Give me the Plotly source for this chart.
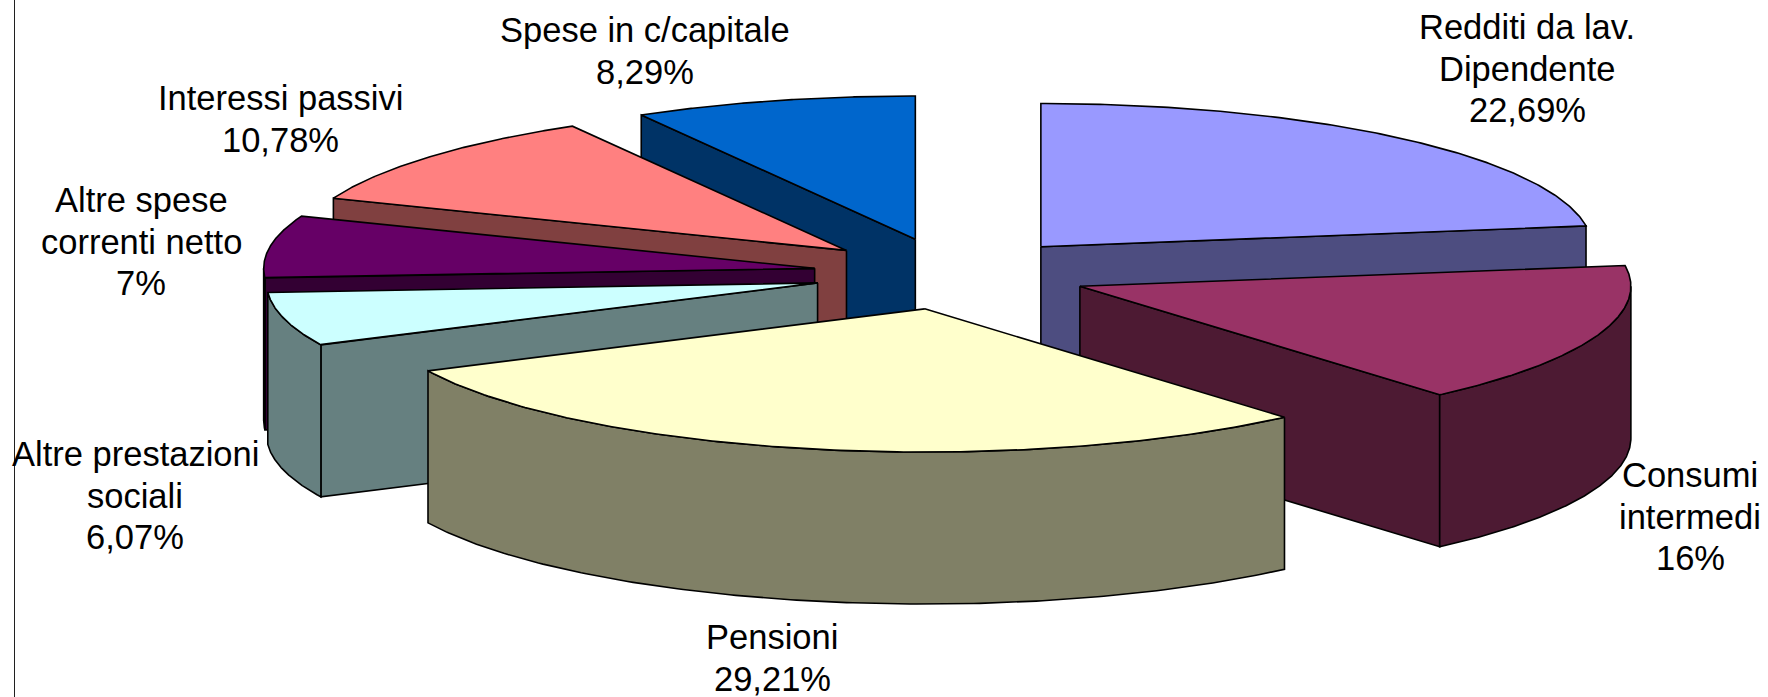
import numpy as np
import plotly.graph_objects as go

# ---- data ----
category_lines = [
    ["Redditi da lav.", "Dipendente"],
    ["Consumi", "intermedi"],
    ["Pensioni"],
    ["Altre prestazioni", "sociali"],
    ["Altre spese", "correnti netto"],
    ["Interessi passivi"],
    ["Spese in c/capitale"],
]
values = [22.69, 16, 29.21, 6.07, 7, 10.78, 8.29]
value_labels = ["22,69%", "16%", "29,21%", "6,07%", "7%", "10,78%", "8,29%"]

# ---- styles ----
top_colors = ["#9999FF", "#993366", "#FFFFCC", "#CCFFFF", "#660066", "#FF8080", "#0066CC"]
side_colors = ["#4D4D80", "#4D1A33", "#808066", "#668080", "#330033", "#804040", "#003366"]

# ---- layout of the drawing (page pixels) ----
W, H = 1768, 697
CX, CY = 950.8, 273.8      # pie centre
RX, RY = 551.0, 143.2      # projected radii
DEPTH = 152.0              # thickness of the pie
EXPLODE = 0.25             # every slice is pulled out by a quarter radius
slice_nudge_x = [0, 0, 2, 0, 0, 0, 0]
LINE = dict(color="black", width=1.6)
FONT = dict(family="Liberation Sans, Arial, sans-serif", size=34.5, color="black")
LINE_STEP = 41.7
label_x = [1527, 1690, 772, 135, 141, 280, 645]
label_y0 = [27, 475, 637, 454, 200, 98, 30]

# ---- geometry derived from the values ----
v = np.array(values, dtype=float)
edges = np.concatenate([[0.0], np.cumsum(v)]) / v.sum() * 2 * np.pi


def arc(a0, a1, ox, oy, dz=0.0, n=160):
    t = np.linspace(a0, a1, n)
    return ox + RX * np.sin(t), oy - RY * np.cos(t) + dz


def poly(fig, xs, ys, color):
    fig.add_trace(go.Scatter(
        x=np.append(xs, xs[0]), y=np.append(ys, ys[0]), mode="lines",
        fill="toself", fillcolor=color, line=LINE, hoverinfo="skip",
        showlegend=False))


def radial_face(fig, ang, ox, oy, color):
    ex, ey = ox + RX * np.sin(ang), oy - RY * np.cos(ang)
    poly(fig, np.array([ox, ex, ex, ox]), np.array([oy, ey, ey + DEPTH, oy + DEPTH]), color)


fig = go.Figure()
mids = (edges[:-1] + edges[1:]) / 2
ox = CX + EXPLODE * RX * np.sin(mids) + np.array(slice_nudge_x)
oy = CY - EXPLODE * RY * np.cos(mids)

for i in np.argsort(oy):
    a0, a1 = edges[i], edges[i + 1]
    # flat cut faces that look towards the viewer
    if np.sin(a0) < -1e-6:
        radial_face(fig, a0, ox[i], oy[i], side_colors[i])
    if np.sin(a1) > 1e-6:
        radial_face(fig, a1, ox[i], oy[i], side_colors[i])
    # curved rim: only the front half of the ellipse can be seen
    w0, w1 = max(a0, np.pi / 2), min(a1, 3 * np.pi / 2)
    if w1 > w0:
        tx, ty = arc(w0, w1, ox[i], oy[i])
        bx, by = arc(w1, w0, ox[i], oy[i], DEPTH)
        poly(fig, np.concatenate([tx, bx]), np.concatenate([ty, by]), side_colors[i])
    # top of the slice
    tx, ty = arc(a0, a1, ox[i], oy[i])
    poly(fig, np.concatenate([[ox[i]], tx]), np.concatenate([[oy[i]], ty]), top_colors[i])

# labels: one real text per line, because the line pitch is wider than Plotly's
for i, lines in enumerate(category_lines):
    for k, txt in enumerate(lines + [value_labels[i]]):
        fig.add_annotation(x=label_x[i], y=label_y0[i] + k * LINE_STEP, text=txt,
                           showarrow=False, font=FONT, xanchor="center", yanchor="middle",
                           xref="x", yref="y")

fig.add_shape(type="line", x0=14.5, x1=14.5, y0=0, y1=H, xref="x", yref="y",
              line=dict(color="#202020", width=1), layer="below")

fig.update_layout(
    width=W, height=H, margin=dict(l=0, r=0, t=0, b=0),
    paper_bgcolor="white", plot_bgcolor="white", showlegend=False,
    xaxis=dict(range=[0, W], visible=False, fixedrange=True),
    yaxis=dict(range=[H, 0], visible=False, fixedrange=True),
)
fig.write_html("out.html", config={"displayModeBar": False},
               post_script="document.body.style.margin='0';document.body.style.overflow='hidden';")
